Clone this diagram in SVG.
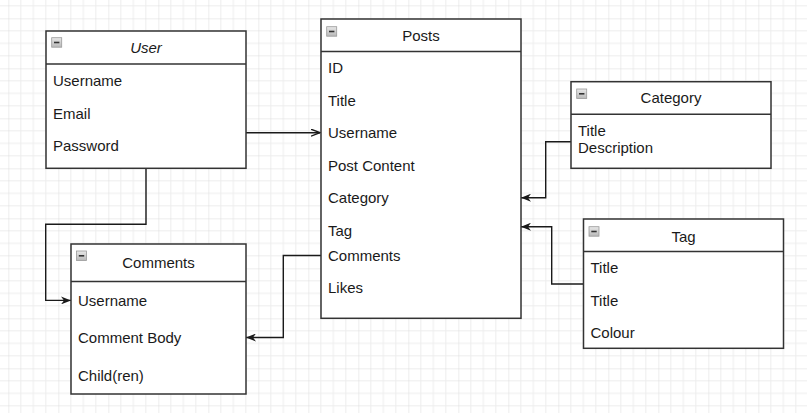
<svg xmlns="http://www.w3.org/2000/svg" width="807" height="413" viewBox="0 0 807 413">
  <style>
    .box { fill: #ffffff; stroke: #333333; stroke-width: 1.5; }
    .sep { stroke: #333333; stroke-width: 1.5; }
    .t { font-family: "Liberation Sans", Arial, sans-serif; font-size: 15px; fill: #1a1a1a; }
    .title { text-anchor: middle; }
    .conn { fill: none; stroke: #1a1a1a; stroke-width: 1.4; }
    .icon { fill: url(#iconGrad); stroke: #9a9a9a; stroke-width: 0.8; }
    .iconbar { stroke: #333333; stroke-width: 1.6; }
  </style>
  <defs>
    <pattern id="grid" patternUnits="userSpaceOnUse" x="8.33" y="18.33" width="50" height="50">
      <path d="M12.5,0 V50 M25,0 V50 M37.5,0 V50 M0,12.5 H50 M0,25 H50 M0,37.5 H50" stroke="#ededed" stroke-width="1" fill="none"/>
      <path d="M0,0 V50 M0,0 H50" stroke="#dcdcdc" stroke-width="1" fill="none"/>
    </pattern>
    <linearGradient id="iconGrad" x1="0" y1="0" x2="0" y2="1">
      <stop offset="0" stop-color="#e8e8e8"/>
      <stop offset="1" stop-color="#b8b8b8"/>
    </linearGradient>
    <marker id="block" markerUnits="userSpaceOnUse" viewBox="0 0 10 8" refX="10" refY="4" markerWidth="10" markerHeight="8" orient="auto">
      <path d="M0,0 L10,4 L0,8 L3,4 Z" fill="#1a1a1a"/>
    </marker>
    <marker id="open" markerUnits="userSpaceOnUse" viewBox="0 0 10 8" refX="9.5" refY="4" markerWidth="10" markerHeight="8" orient="auto">
      <path d="M0.5,0.5 L9.5,4 L0.5,7.5" fill="none" stroke="#1a1a1a" stroke-width="1.4"/>
    </marker>
  </defs>

  <rect width="807" height="413" fill="#ffffff"/>
  <rect width="807" height="413" fill="url(#grid)"/>

  <g id="connectors">
    <path class="conn" d="M246,132.7 H320" marker-end="url(#open)"/>
    <path class="conn" d="M146,168.3 V224.3 H45.7 V300.4 H71" marker-end="url(#block)"/>
    <path class="conn" d="M571,141.7 H545.7 V197.7 H521" marker-end="url(#block)"/>
    <path class="conn" d="M583.5,284 H551.7 V226.7 H521" marker-end="url(#block)"/>
    <path class="conn" d="M321,255.5 H283.3 V337.5 H246" marker-end="url(#block)"/>
  </g>

  <g id="user">
    <rect class="box" x="46" y="31" width="200" height="137.3"/>
    <line class="sep" x1="46" y1="64" x2="246" y2="64"/>
    <rect class="icon" x="51.7" y="37.7" width="10" height="9.5"/>
    <line class="iconbar" x1="54" y1="42.5" x2="59.4" y2="42.5"/>
    <text class="t title" x="146" y="52.5" font-style="italic">User</text>
    <text class="t" x="53" y="86">Username</text>
    <text class="t" x="53" y="118.5">Email</text>
    <text class="t" x="53" y="151">Password</text>
  </g>

  <g id="posts">
    <rect class="box" x="321" y="19" width="200" height="299.3"/>
    <line class="sep" x1="321" y1="51.5" x2="521" y2="51.5"/>
    <rect class="icon" x="326.7" y="26.7" width="10" height="9.5"/>
    <line class="iconbar" x1="329" y1="31.5" x2="334.4" y2="31.5"/>
    <text class="t title" x="421" y="40.5">Posts</text>
    <text class="t" x="328" y="73">ID</text>
    <text class="t" x="328" y="105.5">Title</text>
    <text class="t" x="328" y="138">Username</text>
    <text class="t" x="328" y="170.5">Post Content</text>
    <text class="t" x="328" y="203">Category</text>
    <text class="t" x="328" y="235.5">Tag</text>
    <text class="t" x="328" y="260.5">Comments</text>
    <text class="t" x="328" y="293">Likes</text>
  </g>

  <g id="category">
    <rect class="box" x="571" y="81.7" width="200" height="86.6"/>
    <line class="sep" x1="571" y1="114.2" x2="771" y2="114.2"/>
    <rect class="icon" x="576.7" y="89" width="10" height="9.5"/>
    <line class="iconbar" x1="579" y1="93.8" x2="584.4" y2="93.8"/>
    <text class="t title" x="671" y="103">Category</text>
    <text class="t" x="578" y="135.5">Title</text>
    <text class="t" x="578" y="153">Description</text>
  </g>

  <g id="tag">
    <rect class="box" x="583.5" y="219" width="200" height="129.3"/>
    <line class="sep" x1="583.5" y1="251.5" x2="783.5" y2="251.5"/>
    <rect class="icon" x="589" y="226.7" width="10" height="9.5"/>
    <line class="iconbar" x1="591.3" y1="231.5" x2="596.7" y2="231.5"/>
    <text class="t title" x="683.5" y="241.5">Tag</text>
    <text class="t" x="590.5" y="273">Title</text>
    <text class="t" x="590.5" y="305.5">Title</text>
    <text class="t" x="590.5" y="338">Colour</text>
  </g>

  <g id="comments">
    <rect class="box" x="71" y="244" width="175" height="150"/>
    <line class="sep" x1="71" y1="281.5" x2="246" y2="281.5"/>
    <rect class="icon" x="76.5" y="251" width="10" height="9.5"/>
    <line class="iconbar" x1="78.8" y1="255.8" x2="84.2" y2="255.8"/>
    <text class="t title" x="158.5" y="268">Comments</text>
    <text class="t" x="78" y="305.5">Username</text>
    <text class="t" x="78" y="343">Comment Body</text>
    <text class="t" x="78" y="380.5">Child(ren)</text>
  </g>
</svg>
